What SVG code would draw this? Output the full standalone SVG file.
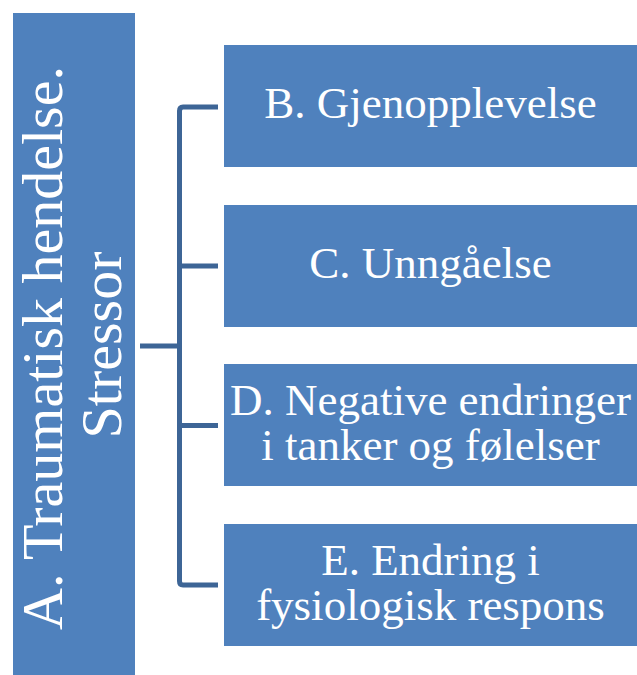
<svg xmlns="http://www.w3.org/2000/svg" width="637" height="675" viewBox="0 0 637 675">
<style>
.box{fill:#4F81BD;}
.t{font-family:"Liberation Serif","Times New Roman",serif;fill:#FFFFFF;text-anchor:middle;}
.s{font-size:45px;}
.l{font-size:58px;}
.c{fill:none;stroke:#3D6596;stroke-width:5;stroke-linejoin:round;}
</style>
<rect width="637" height="675" fill="#FFFFFF"/>
<g id="connectors">
<path class="c" d="M218 107 H183 Q179.5 107 179.5 111 V581 Q179.5 585 183 585 H218"/>
<path class="c" d="M179.5 266 H218 M179.5 425.5 H218 M140 346 H179.5"/>
</g>
<g id="nodeA">
<rect class="box" x="13" y="13" width="122" height="662"/>
<text class="t l" transform="translate(62,348) rotate(-90)">A. Traumatisk hendelse.</text>
<text class="t l" transform="translate(121,345) rotate(-90)">Stressor</text>
</g>
<g id="nodeB">
<rect class="box" x="224" y="45" width="413" height="122"/>
<text class="t s" x="430.5" y="118">B. Gjenopplevelse</text>
</g>
<g id="nodeC">
<rect class="box" x="224" y="205" width="413" height="122"/>
<text class="t s" x="430.5" y="278">C. Unngåelse</text>
</g>
<g id="nodeD">
<rect class="box" x="224" y="364" width="413" height="122"/>
<text class="t s" x="430.5" y="415">D. Negative endringer</text>
<text class="t s" x="430.5" y="460">i tanker og følelser</text>
</g>
<g id="nodeE">
<rect class="box" x="224" y="524" width="413" height="122"/>
<text class="t s" x="430.5" y="575">E. Endring i</text>
<text class="t s" x="430.5" y="620">fysiologisk respons</text>
</g>
</svg>
